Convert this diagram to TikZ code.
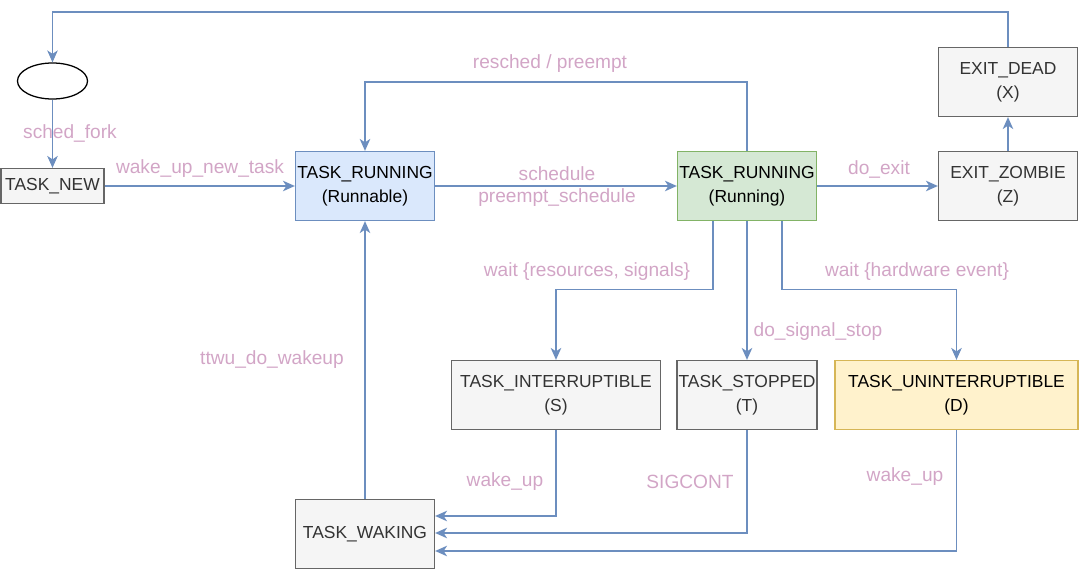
\documentclass[tikz,border=0pt]{standalone}
\usepackage{fontspec}
\setmainfont{Liberation Sans}
\usetikzlibrary{arrows.meta,shapes.geometric,calc}
\definecolor{flowblue}{HTML}{6C8EBF}
\definecolor{lblpink}{HTML}{D2A5C6}
\definecolor{grayfill}{HTML}{F5F5F5}
\definecolor{grayline}{HTML}{666666}
\definecolor{bluefill}{HTML}{DAE8FC}
\definecolor{greenfill}{HTML}{D5E8D4}
\definecolor{greenline}{HTML}{82B366}
\definecolor{yellowfill}{HTML}{FFF2CC}
\definecolor{yellowline}{HTML}{D6B656}
\begin{document}
\begin{tikzpicture}[x=0.025cm,y=-0.025cm,
  state/.style={draw=grayline,fill=grayfill,text=black!80,line width=0.9pt,
    font=\fontsize{12.4}{17}\selectfont,
    align=center,minimum width=3.475cm,minimum height=1.725cm,inner sep=1pt},
  flow/.style={draw=flowblue,line width=0.9pt,-{Stealth[length=8.5pt,width=7.5pt,inset=2.5pt]}},
  lbl/.style={text=lblpink,inner sep=1pt,font=\fontsize{13.6}{16}\selectfont}]
\useasboundingbox (0,0) rectangle (1080,572);
% states
\node[ellipse,draw,line width=0.9pt,fill=white,minimum width=1.75cm,minimum height=0.9cm,inner sep=0pt] (start) at (52.5,81) {};
\node[state,minimum width=2.57cm,minimum height=0.875cm] (new) at (52.5,186) {TASK\_NEW};
\node[state,fill=bluefill,draw=flowblue,text=black] (runnable) at (365,186) {TASK\_RUNNING\\(Runnable)};
\node[state,fill=greenfill,draw=greenline,text=black] (running) at (747,186) {TASK\_RUNNING\\(Running)};
\node[state] (zombie) at (1008,186) {EXIT\_ZOMBIE\\(Z)};
\node[state] (dead) at (1008,82) {EXIT\_DEAD\\(X)};
\node[state,minimum width=5.225cm] (inter) at (556,395) {TASK\_INTERRUPTIBLE\\(S)};
\node[state,minimum width=3.425cm] (stopped) at (747,395) {TASK\_STOPPED\\(T)};
\node[state,fill=yellowfill,draw=yellowline,text=black,minimum width=6.075cm] (uninter) at (956.5,395) {TASK\_UNINTERRUPTIBLE\\(D)};
\node[state] (waking) at (365,534) {TASK\_WAKING};
% bends
\coordinate (toploop) at (530,12);
\coordinate (preloop) at (550,82);
% transitions
\draw[flow] (dead.north) |- (toploop) -| (start.north);
\draw[flow] (start.south) -- (new.north);
\draw[flow] (new.east) -- (runnable.west);
\draw[flow] (runnable.east) -- (running.west);
\draw[flow] (running.north) |- (preloop) -| (runnable.north);
\draw[flow] (running.east) -- (zombie.west);
\draw[flow] (zombie.north) -- (dead.south);
\draw[flow] ($(running.south)+(-34,0)$) |- ($(inter.north)+(0,-70)$) -- (inter.north);
\draw[flow] (running.south) -- (stopped.north);
\draw[flow] ($(running.south)+(35,0)$) |- ($(uninter.north)+(0,-70)$) -- (uninter.north);
\draw[flow] (inter.south) |- ($(waking.east)+(0,-18)$);
\draw[flow] (stopped.south) |- ($(waking.east)+(0,-1)$);
\draw[flow] (uninter.south) |- ($(waking.east)+(0,17)$);
\draw[flow] (waking.north) -- (runnable.south);
% labels
\node[lbl] (l1) at (70,133) {sched\_fork};
\node[lbl] (l2) at (200,169) {wake\_up\_new\_task};
\node[lbl] (l3) at (557,174) {schedule};
\node[lbl] (l4) at (557,198) {preempt\_schedule};
\node[lbl] (l5) at (550,64) {resched / preempt};
\node[lbl] (l6) at (879,169) {do\_exit};
\node[lbl] (l7) at (587,272) {wait \{resources, signals\}};
\node[lbl] (l8) at (917,272) {wait \{hardware event\}};
\node[lbl] (l9) at (818,332) {do\_signal\_stop};
\node[lbl] (l10) at (272,360) {ttwu\_do\_wakeup};
\node[lbl] (l11) at (505,482) {wake\_up};
\node[lbl] (l12) at (690,482) {SIGCONT};
\node[lbl] (l13) at (905,477) {wake\_up};
\end{tikzpicture}
\end{document}
